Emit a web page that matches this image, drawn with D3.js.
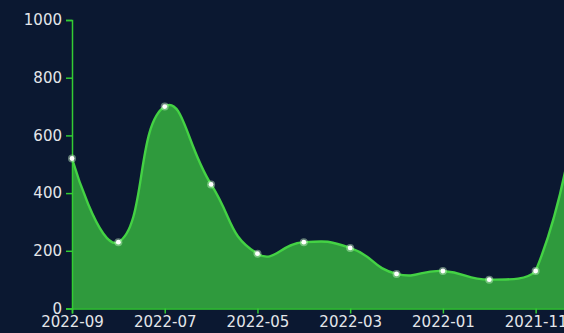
<!DOCTYPE html>
<html>
<head>
<meta charset="utf-8">
<script src="https://cdn.jsdelivr.net/npm/d3@7/dist/d3.min.js"></script>
<style>
  html, body { margin: 0; padding: 0; background: #0b1831; overflow: hidden; }
  svg { display: block; }
</style>
</head>
<body>
<div id="chart"></div>
<script>
// Monthly values, newest first
const months = ["2022-09", "2022-08", "2022-07", "2022-06", "2022-05", "2022-04",
                "2022-03", "2022-02", "2022-01", "2021-12", "2021-11", "2021-10"];
const values = [520, 230, 700, 430, 190, 230, 210, 120, 130, 100, 130, 880];
const yTicks = [0, 200, 400, 600, 800, 1000];

const width = 640, height = 333;
const margin = { left: 72, top: 20, bottom: 24.5 };
const plotRight = 582;

const svg = d3.select("#chart").append("svg")
  .attr("width", width).attr("height", height);

svg.append("rect").attr("width", width).attr("height", height).attr("fill", "#0b1831");

const x = d3.scalePoint().domain(months).range([margin.left, plotRight]);
const y = d3.scaleLinear().domain([0, 1000]).range([height - margin.bottom, margin.top]);

const data = months.map((m, i) => ({ m, v: values[i] }));
const pts = data.map(d => [x(d.m), y(d.v)]);

// Smoothed bezier path: control points follow the neighbour chord, split by
// segment length, and are kept inside the bounding box of the points.
function smoothPath(points, smooth) {
  const minX = d3.min(points, p => p[0]), maxX = d3.max(points, p => p[0]);
  const minY = d3.min(points, p => p[1]), maxY = d3.max(points, p => p[1]);
  const clamp = c => [Math.min(Math.max(c[0], minX), maxX), Math.min(Math.max(c[1], minY), maxY)];
  const path = d3.path();
  let cp0 = points[0].slice();
  path.moveTo(points[0][0], points[0][1]);
  for (let i = 1; i < points.length; i++) {
    const p = points[i], prev = points[i - 1], next = points[i + 1];
    let cp1, ratio = 0.5, v = [0, 0];
    if (!next) {
      cp1 = p.slice();
    } else {
      v = [next[0] - prev[0], next[1] - prev[1]];
      const lp = Math.hypot(p[0] - prev[0], p[1] - prev[1]);
      const ln = Math.hypot(p[0] - next[0], p[1] - next[1]);
      ratio = ln / (ln + lp);
      cp1 = [p[0] - v[0] * smooth * (1 - ratio), p[1] - v[1] * smooth * (1 - ratio)];
    }
    const a = clamp(cp0), b = clamp(cp1);
    path.bezierCurveTo(a[0], a[1], b[0], b[1], p[0], p[1]);
    cp0 = [p[0] + v[0] * smooth * ratio, p[1] + v[1] * smooth * ratio];
  }
  return path.toString();
}

const linePath = smoothPath(pts, 0.5);
const base = y(0);
const areaPath = linePath + `L${pts[pts.length - 1][0]},${base}L${pts[0][0]},${base}Z`;

svg.append("path").attr("d", areaPath).attr("fill", "#2f9a3d");
svg.append("path").attr("d", linePath)
  .attr("fill", "none").attr("stroke", "#44d244").attr("stroke-width", 2.4);

// Axes
const axisColor = "#33cc33";
const labelColor = "#e4e6ea";
const font = "DejaVu Sans, sans-serif";

const yAxis = svg.append("g")
  .attr("transform", `translate(${margin.left},0)`)
  .call(d3.axisLeft(y).tickValues(yTicks).tickFormat(d3.format("d")).tickSize(6).tickPadding(4));
const xAxis = svg.append("g")
  .attr("transform", `translate(0,${base})`)
  .call(d3.axisBottom(x).tickValues(months.filter((d, i) => i % 2 === 0)).tickSize(5).tickPadding(3));

[yAxis, xAxis].forEach(g => {
  g.select(".domain").attr("stroke", axisColor).attr("stroke-width", 1.5);
  g.selectAll(".tick line").attr("stroke", axisColor).attr("stroke-width", 1.5);
  g.selectAll(".tick text").attr("fill", labelColor)
    .style("font-family", font).style("font-size", "15px");
});

// Point markers with a soft halo
const marks = svg.append("g").selectAll("g").data(data).join("g")
  .attr("transform", d => `translate(${x(d.m)},${y(d.v)})`);
marks.append("circle").attr("r", 4).attr("fill", "#c8f5c8").attr("opacity", 0.45);
marks.append("circle").attr("r", 2.4).attr("fill", "#ffffff");
</script>
</body>
</html>
